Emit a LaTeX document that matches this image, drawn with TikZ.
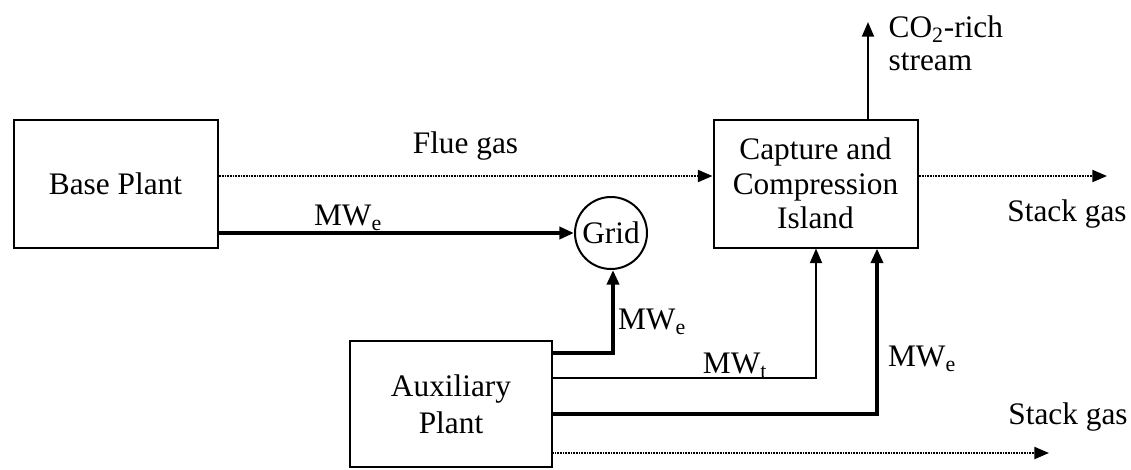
\documentclass[tikz,border=0pt]{standalone}
\usepackage{fontspec}
\setmainfont{Liberation Serif}
\usetikzlibrary{arrows.meta}

\begin{document}
\begin{tikzpicture}[x=0.75pt, y=-0.75pt,
    font=\fontsize{23.5}{26}\selectfont,
    >={Triangle[length=11pt,width=9pt]},
    unit/.style={draw, line width=1.5pt, minimum width=153pt, minimum height=96pt, align=center, inner sep=0pt},
    gas/.style={->, line width=1.6pt, dash pattern=on 0.8pt off 0.4pt},
    power/.style={->, line width=3pt},
    heat/.style={->, line width=1.5pt}]
  \useasboundingbox (0,0) rectangle (1131,469);
  % Units
  \node[unit] (base) at (115.5,183.5) {Base Plant};
  \node[unit] (cci) at (815.5,183.5) {Capture and\\Compression\\Island};
  \node[unit, minimum width=152pt, minimum height=94pt, font=\fontsize{23.5}{28}\selectfont] (aux) at (451,404) {Auxiliary\\Plant};
  \node[draw, circle, line width=1.5pt, minimum size=54pt, inner sep=0pt] (grid) at (611,233) {Grid};
  % Free ends
  \coordinate (co2) at (868,22);
  \coordinate (stack1) at (1107,176);
  \coordinate (stack2) at (1049,453);
  % Flue gas and stack gas
  \draw[gas] (base.east |- 0,176) -- node[above=8pt] {Flue gas} (cci.west |- 0,176);
  \draw[gas] (cci.east |- stack1) -- (stack1);
  \draw[gas] (aux.east |- stack2) -- (stack2);
  % CO2 product
  \draw[heat] (cci.north -| co2) -- (co2);
  % Power and heat
  \draw[power] (base.east |- grid) -- (grid.west);
  \draw[power] (aux.east |- 0,353) -| ([xshift=1.5pt]grid.south);
  \draw[heat] (aux.east |- 0,378) -| (cci.south -| 816,0);
  \draw[power] (aux.east |- 0,414) -| (cci.south -| 877,0);
  % Labels
  \node (lmwe1) at (348,218) {MW\textsubscript{e}};
  \node (lmwe2) at (652,322) {MW\textsubscript{e}};
  \node (lmwt) at (735,366) {MW\textsubscript{t}};
  \node (lmwe3) at (922,359) {MW\textsubscript{e}};
  \node[anchor=west, align=left, font=\fontsize{23.5}{25}\selectfont] (lco2) at (884,43) {CO\textsubscript{2}-rich\\stream};
  \node (lstack1) at (1067,214) {Stack gas};
  \node (lstack2) at (1068,417) {Stack gas};
\end{tikzpicture}
\end{document}
